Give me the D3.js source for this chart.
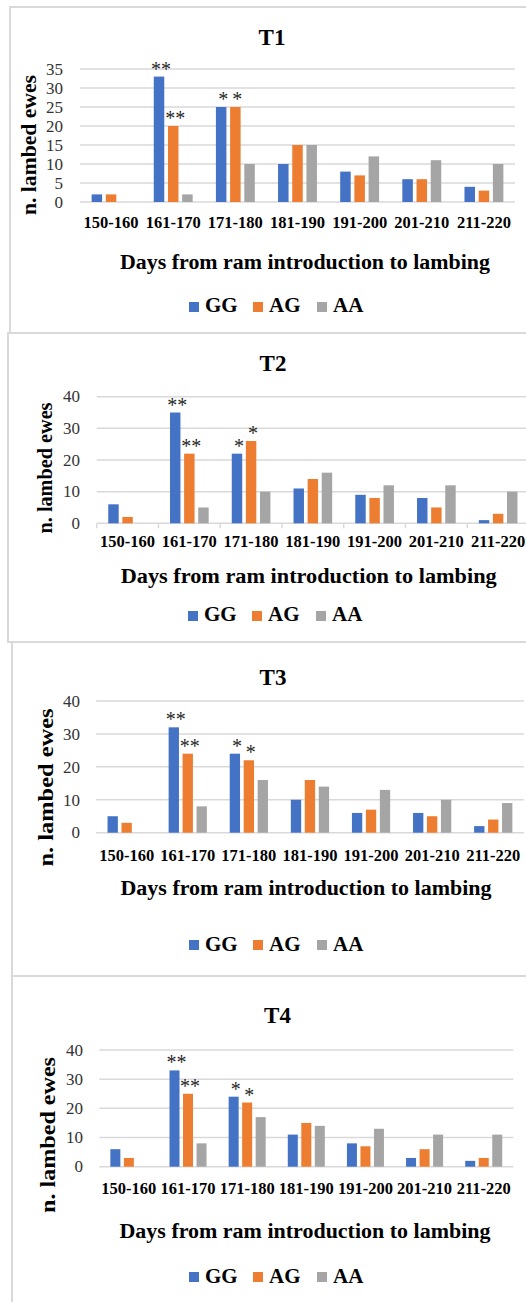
<!DOCTYPE html>
<html><head><meta charset="utf-8">
<script src="https://cdn.jsdelivr.net/npm/d3@7"></script>
<style>body{margin:0;background:#fff} svg{display:block}</style>
</head><body>
<script>
// ---------- data ----------
const categories = ["150-160","161-170","171-180","181-190","191-200","201-210","211-220"];
const seriesNames = ["GG","AG","AA"];
const seriesColors = ["#4472C4","#ED7D31","#A5A5A5"];
const t1GG = [2,33,25,10,8,6,4];
const t1AG = [2,20,25,15,7,6,3];
const t1AA = [0,2,10,15,12,11,10];
const t2GG = [6,35,22,11,9,8,1];
const t2AG = [2,22,26,14,8,5,3];
const t2AA = [0,5,10,16,12,12,10];
const t3GG = [5,32,24,10,6,6,2];
const t3AG = [3,24,22,16,7,5,4];
const t3AA = [0,8,16,14,13,10,9];
const t4GG = [6,33,24,11,8,3,2];
const t4AG = [3,25,22,15,7,6,3];
const t4AA = [0,8,17,14,13,11,11];
const t1Ticks = [0,5,10,15,20,25,30,35];
const t2Ticks = [0,10,20,30,40];
const t3Ticks = [0,10,20,30,40];
const t4Ticks = [0,10,20,30,40];
const panelTitles = ["T1","T2","T3","T4"];
const starCats = ["161-170","161-170","171-180","171-180"];
const starSeries = ["GG","AG","GG","AG"];
const starLabels = ["**","**","*","*"];
const xTitle = "Days from ram introduction to lambing";
const yTitle = "n. lambed ewes";

const panelData = [
  {title: panelTitles[0], values: [t1GG,t1AG,t1AA], ticks: t1Ticks},
  {title: panelTitles[1], values: [t2GG,t2AG,t2AA], ticks: t2Ticks},
  {title: panelTitles[2], values: [t3GG,t3AG,t3AA], ticks: t3Ticks},
  {title: panelTitles[3], values: [t4GG,t4AG,t4AA], ticks: t4Ticks}
];

// ---------- layout ----------
const layouts = [
  {box:{x:10,y:7,h:326}, title:{x:272,y:45}, plot:{x0:80,x1:515,yTop:69,yBot:202},
   tickX:63, catY:228, xt:{x:305,y:269,len:370}, leg:{x:189,sqTop:302,base:312},
   yt:{x:36,cy:145,len:140}, tickMarks:false},
  {box:{x:8,y:333,h:309}, title:{x:273,y:371}, plot:{x0:96.7,x1:529,yTop:396.7,yBot:523.3},
   tickX:80, catY:547, xt:{x:308.7,y:583,len:376}, leg:{x:188,sqTop:611,base:621},
   yt:{x:52,cy:468,len:131}, tickMarks:true},
  {box:{x:12,y:642,h:334}, title:{x:273,y:685}, plot:{x0:96.1,x1:523.8,yTop:701,yBot:832.7},
   tickX:80, catY:860.7, xt:{x:306,y:895,len:371}, leg:{x:189,sqTop:940,base:951},
   yt:{x:53,cy:787.5,len:158}, tickMarks:false},
  {box:{x:12,y:976,h:400}, title:{x:277.5,y:1023}, plot:{x0:99.3,x1:513.3,yTop:1050,yBot:1166.7},
   tickX:83, catY:1194, xt:{x:305,y:1238,len:371}, leg:{x:189,sqTop:1272,base:1283},
   yt:{x:55,cy:1135,len:156}, tickMarks:false}
];

const W = 526, H = 1302;
const serif = "'Liberation Serif','Times New Roman',serif";
const svg = d3.select("body").append("svg").attr("width", W).attr("height", H)
  .attr("font-family", serif);

panelData.forEach((pd, pi) => {
  const L = layouts[pi];
  const g = svg.append("g");

  // panel border
  g.append("rect").attr("x", L.box.x).attr("y", L.box.y)
    .attr("width", 600).attr("height", L.box.h)
    .attr("fill", "none").attr("stroke", "#d9d9d9").attr("stroke-width", 2);

  const yMax = d3.max(pd.ticks);
  const y = d3.scaleLinear().domain([0, yMax]).range([L.plot.yBot, L.plot.yTop]);
  const x0 = d3.scaleBand().domain(categories).range([L.plot.x0, L.plot.x1])
    .paddingInner(0.374).paddingOuter(0.187);
  const x1 = d3.scaleBand().domain(seriesNames).range([0, x0.bandwidth()]).paddingInner(0.26);
  const xFull = d3.scaleBand().domain(categories).range([L.plot.x0, L.plot.x1]);

  // gridlines
  g.append("g").selectAll("line").data(pd.ticks).join("line")
    .attr("x1", L.plot.x0).attr("x2", L.plot.x1)
    .attr("y1", d => y(d)).attr("y2", d => y(d))
    .attr("stroke", "#d9d9d9").attr("stroke-width", 1.5);

  // y tick labels
  g.append("g").selectAll("text").data(pd.ticks).join("text")
    .attr("x", L.tickX).attr("y", d => y(d)).attr("dy", "0.34em")
    .attr("text-anchor", "end").attr("font-size", 17).attr("fill", "#333")
    .text(d => d);

  // x-axis tick marks (T2 only)
  if (L.tickMarks) {
    const edges = categories.map(c => xFull(c)).concat([L.plot.x1]);
    g.append("g").selectAll("line").data(edges).join("line")
      .attr("x1", d => d).attr("x2", d => d)
      .attr("y1", L.plot.yBot).attr("y2", L.plot.yBot + 5)
      .attr("stroke", "#d9d9d9").attr("stroke-width", 1.5);
  }

  // bars
  seriesNames.forEach((s, si) => {
    g.append("g").selectAll("rect").data(pd.values[si]).join("rect")
      .attr("x", (d, i) => x0(categories[i]) + x1(s))
      .attr("y", d => y(d))
      .attr("width", x1.bandwidth())
      .attr("height", d => y(0) - y(d))
      .attr("fill", seriesColors[si]);
  });

  // significance stars
  starLabels.forEach((lab, k) => {
    const ci = categories.indexOf(starCats[k]);
    const si = seriesNames.indexOf(starSeries[k]);
    const v = pd.values[si][ci];
    g.append("text")
      .attr("x", x0(starCats[k]) + x1(starSeries[k]) + x1.bandwidth() / 2 + 2)
      .attr("y", y(v) - 1)
      .attr("text-anchor", "middle").attr("font-size", 20).attr("fill", "#262626")
      .text(lab);
  });

  // category labels
  g.append("g").selectAll("text").data(categories).join("text")
    .attr("x", d => xFull(d) + xFull.bandwidth() / 2).attr("y", L.catY)
    .attr("text-anchor", "middle").attr("font-size", 16.5).attr("font-weight", "bold")
    .attr("fill", "#000").text(d => d);

  // title
  g.append("text").attr("x", L.title.x).attr("y", L.title.y)
    .attr("text-anchor", "middle").attr("font-size", 23).attr("font-weight", "bold")
    .text(pd.title);

  // x title
  g.append("text").attr("x", L.xt.x).attr("y", L.xt.y)
    .attr("text-anchor", "middle").attr("font-size", 20).attr("font-weight", "bold")
    .attr("textLength", L.xt.len).attr("lengthAdjust", "spacingAndGlyphs")
    .text(xTitle);

  // y title
  g.append("text")
    .attr("transform", `translate(${L.yt.x},${L.yt.cy}) rotate(-90)`)
    .attr("text-anchor", "middle").attr("font-size", 20).attr("font-weight", "bold")
    .attr("textLength", L.yt.len).attr("lengthAdjust", "spacingAndGlyphs")
    .text(yTitle);

  // legend
  const lg = g.append("g");
  seriesNames.forEach((s, si) => {
    const lx = L.leg.x + si * 64;
    lg.append("rect").attr("x", lx).attr("y", L.leg.sqTop)
      .attr("width", 10).attr("height", 10).attr("fill", seriesColors[si]);
    lg.append("text").attr("x", lx + 16).attr("y", L.leg.base)
      .attr("font-size", 21).attr("font-weight", "bold").text(s);
  });
});
</script>
</body></html>
